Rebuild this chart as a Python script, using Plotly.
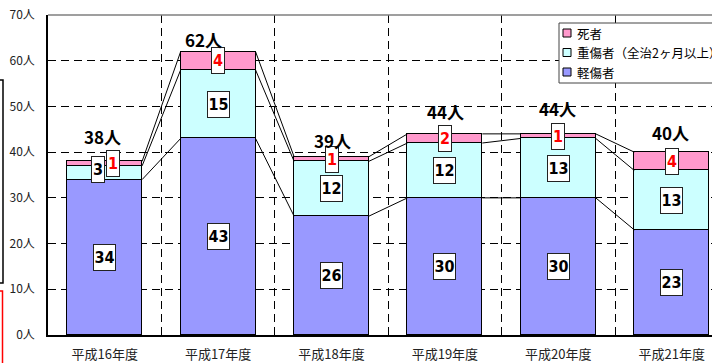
import plotly.graph_objects as go

# Fiscal years (Heisei era) and casualties by severity
years = ["平成16年度", "平成17年度", "平成18年度", "平成19年度", "平成20年度", "平成21年度"]
series_names = ["軽傷者", "重傷者（全治2ヶ月以上）", "死者"]
light = [34, 43, 26, 30, 30, 23]
serious = [3, 15, 12, 12, 13, 13]
deaths = [1, 4, 1, 2, 1, 4]
totals = [38, 62, 39, 44, 44, 40]
y_ticks = [0, 10, 20, 30, 40, 50, 60, 70]

colors = ["#9999FF", "#CCFFFF", "#FF99CC"]
label_colors = ["#000000", "#000000", "#FF0000"]
BAR_W = 0.66

# plot area geometry in pixels
W, H = 712, 363
L, T, B = 48, 15, 28
PW, PH = W - L, H - T - B
CAT_PX = 113.4
x_max = -0.5 + PW / CAT_PX


def xp(px):
    return (px - L) / PW


def yp(py):
    return (H - B - py) / PH


xs = list(range(len(years)))
stack = [light, serious, deaths]

fig = go.Figure()
for name, vals, col in zip(series_names, stack, colors):
    fig.add_trace(go.Bar(
        x=xs, y=vals, name=name, width=BAR_W,
        marker=dict(color=col, line=dict(color="#000000", width=1)),
        showlegend=False,
    ))

# cumulative tops of each series, joined by series lines between bars
cum = []
run = [0] * len(years)
for vals in stack:
    run = [a + b for a, b in zip(run, vals)]
    cum.append(run)
for level in cum:
    for i in range(len(years) - 1):
        fig.add_trace(go.Scatter(
            x=[xs[i] + BAR_W / 2, xs[i + 1] - BAR_W / 2],
            y=[level[i], level[i + 1]],
            mode="lines", line=dict(color="#000000", width=1),
            showlegend=False, hoverinfo="skip",
        ))

# boxed segment values
num_font = "Liberation Sans Narrow, DejaVu Sans Condensed, Arial, sans-serif"
seg_shift = {(0, 1): (-7, 3), (0, 2): (8, 0)}
for s, vals in enumerate(stack):
    base = [c - v for c, v in zip(cum[s], vals)]
    for i, v in enumerate(vals):
        dx, dy = seg_shift.get((i, s), (0, 0))
        txt = str(v)
        fig.add_annotation(
            x=xs[i], y=base[i] + v / 2, text=f"<b>{txt}</b>",
            showarrow=False, xshift=dx, yshift=dy,
            font=dict(family=num_font, size=16, color=label_colors[s]),
            bgcolor="#FFFFFF", bordercolor="#222222", borderwidth=1, borderpad=0,
            width=12 if len(txt) == 1 else 21, height=25,
        )

# totals above each bar
total_shift = [(-2, 25), (-15, 12), (1, 16), (1, 22), (-1, 25), (-1, 20)]
for i, t in enumerate(totals):
    dx, dy = total_shift[i]
    fig.add_annotation(
        x=xs[i], y=t, text=f"<b>{t}人</b>", showarrow=False,
        xshift=dx, yshift=dy, yanchor="middle",
        font=dict(family="Liberation Sans Narrow, Noto Sans CJK JP, sans-serif", size=17, color="#000000"),
    )

shapes = []
# plot frame: grey top edge
shapes.append(dict(type="line", xref="paper", yref="paper", x0=0, x1=1, y0=1, y1=1,
                   line=dict(color="#7F7F7F", width=1.5)))

# legend box with swatches
shapes.append(dict(type="rect", xref="paper", yref="paper",
                   x0=xp(559), x1=xp(760), y0=yp(83), y1=yp(23),
                   line=dict(color="#444444", width=1), fillcolor="#FFFFFF"))
legend_rows = [(2, 33), (1, 52.5), (0, 72)]
for s, cy in legend_rows:
    shapes.append(dict(type="rect", xref="paper", yref="paper",
                       x0=xp(563), x1=xp(571), y0=yp(cy + 4), y1=yp(cy - 4),
                       line=dict(color="#000000", width=1), fillcolor=colors[s]))
    fig.add_annotation(xref="paper", yref="paper", x=xp(575), y=yp(cy),
                       xanchor="left", yanchor="middle", showarrow=False,
                       text=series_names[s],
                       font=dict(family="Noto Sans CJK JP", size=12.5, color="#000000"))

# page-side frames at the left edge
shapes.append(dict(type="path", xref="paper", yref="paper",
                   path=f"M {xp(0)},{yp(80)} L {xp(3)},{yp(80)} L {xp(3)},{yp(283)} L {xp(0)},{yp(283)}",
                   line=dict(color="#000000", width=1.5)))
shapes.append(dict(type="path", xref="paper", yref="paper",
                   path=f"M {xp(0)},{yp(291)} L {xp(2.5)},{yp(291)} L {xp(2.5)},{yp(380)}",
                   line=dict(color="#FF0000", width=1.5)))

fig.update_layout(
    width=W, height=H, autosize=False,
    margin=dict(l=L, r=0, t=T, b=B, pad=0),
    barmode="stack", bargap=0,
    plot_bgcolor="#FFFFFF", paper_bgcolor="#FFFFFF",
    showlegend=False, shapes=shapes,
    font=dict(family="Noto Sans CJK JP", size=12, color="#222222"),
)
fig.update_xaxes(
    range=[-0.5, x_max], tickmode="array", tickvals=xs, ticktext=years,
    showgrid=False, zeroline=False, showline=True, linecolor="#000000", linewidth=1.5,
    ticks="", ticklabelstandoff=7,
    tickfont=dict(family="Noto Sans CJK JP", size=13, color="#222222"),
    minor=dict(tickmode="linear", tick0=0.5, dtick=1, showgrid=True,
               gridcolor="#000000", gridwidth=1, griddash="8px,5px"),
)
fig.update_yaxes(
    range=[0, 70], tickmode="array", tickvals=y_ticks,
    ticktext=[f"{v}人" for v in y_ticks],
    showgrid=True, gridcolor="#000000", gridwidth=1, griddash="8px,5px",
    zeroline=False, showline=True, linecolor="#000000", linewidth=1.5,
    ticks="", ticklabelstandoff=9,
    tickfont=dict(family="Noto Sans CJK JP", size=12, color="#222222"),
)

fig.write_html("out.html")
